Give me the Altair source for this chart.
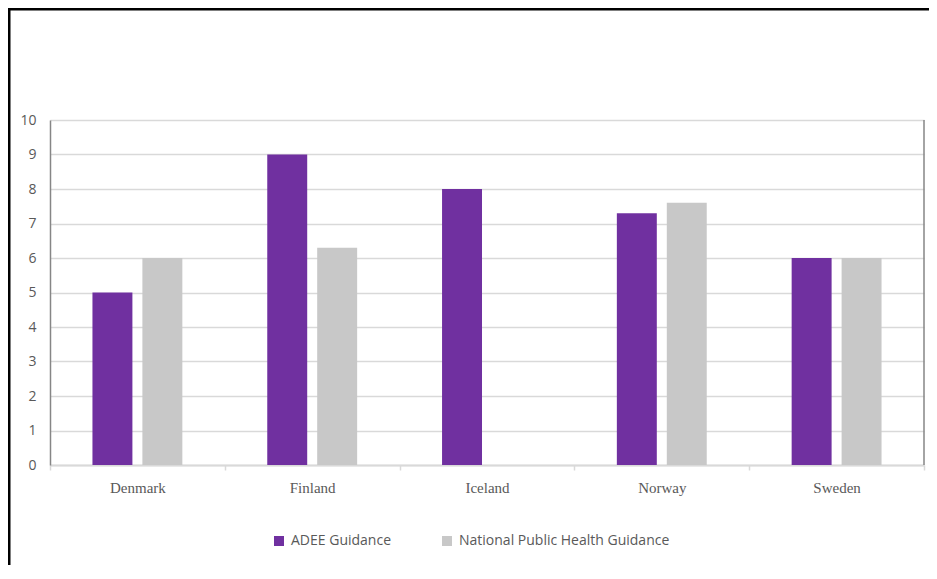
import altair as alt
import pandas as pd

countries = ["Denmark", "Finland", "Iceland", "Norway", "Sweden"]
series = ["ADEE Guidance", "National Public Health Guidance"]
adee = [5, 9, 8, 7.3, 6]
national = [6, 6.3, None, 7.6, 6]
colors = ["#7030A0", "#C8C8C8"]

rows = []
for c, a, n in zip(countries, adee, national):
    rows.append({"country": c, "series": series[0], "value": a})
    if n is not None:
        rows.append({"country": c, "series": series[1], "value": n})
df = pd.DataFrame(rows)

W, H = 874, 345

bars = alt.Chart(df).mark_bar().encode(
    x=alt.X("country:N", sort=countries, title=None,
            scale=alt.Scale(paddingInner=0, paddingOuter=0),
            axis=alt.Axis(labelAngle=0, labelFont="Liberation Serif", labelFontSize=15,
                          labelColor="#595959", labelPadding=10, tickBand="extent",
                          tickColor="#D9D9D9", tickSize=5, tickWidth=1.5,
                          domainColor="#D9D9D9", domainWidth=2, grid=False)),
    xOffset=alt.XOffset("series:N", sort=series,
                        scale=alt.Scale(paddingInner=0.2, paddingOuter=0.85)),
    y=alt.Y("value:Q", title=None,
            scale=alt.Scale(domain=[0, 10], nice=False),
            axis=alt.Axis(values=list(range(0, 11)), labelFont="Open Sans", labelFontSize=14,
                          labelColor="#595959", labelPadding=14, ticks=False,
                          domainColor="#868686", domainWidth=1.5,
                          gridColor="#D9D9D9", gridWidth=1.5)),
    color=alt.Color("series:N", sort=series,
                    scale=alt.Scale(domain=series, range=colors),
                    legend=alt.Legend(title=None, orient="none", direction="horizontal",
                                      legendX=222, legendY=414, symbolType="square",
                                      symbolSize=100, symbolStrokeWidth=0,
                                      labelFont="Open Sans", labelFontSize=14,
                                      labelColor="#595959", columnPadding=48,
                                      labelOffset=5, labelLimit=0)),
)

right_line = alt.Chart(alt.Data(values=[{}])).mark_rule(color="#868686", strokeWidth=1.5).encode(
    x=alt.value(W), y=alt.value(0), y2=alt.value(H)
)

frame = alt.Chart(alt.Data(values=[{}])).mark_rect(filled=False, stroke="black", strokeWidth=3).encode(
    x=alt.value(-41), x2=alt.value(3000), y=alt.value(-111), y2=alt.value(3000)
)

chart = alt.layer(bars, right_line, frame).properties(
    width=W, height=H,
    autosize=alt.AutoSizeParams(type="none"),
    padding={"left": 42, "top": 112, "right": 5, "bottom": 100},
    background="white",
).configure_view(stroke=None)

chart.save("out.html", embed_options={"renderer": "svg", "actions": False})
